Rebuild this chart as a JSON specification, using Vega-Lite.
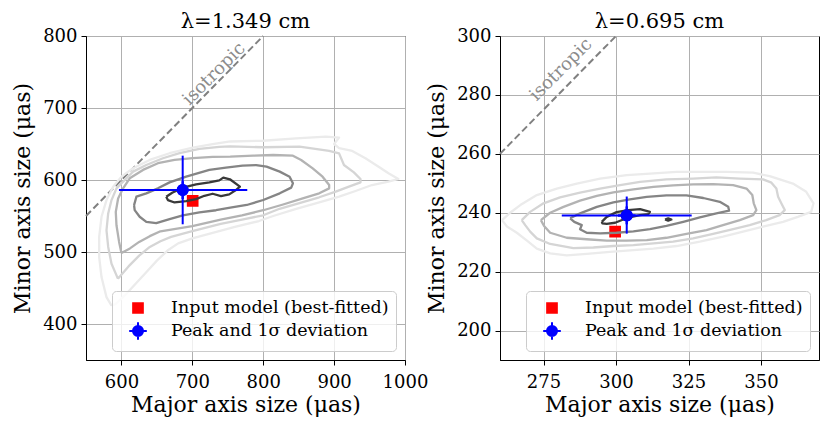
{
  "$schema": "https://vega.github.io/schema/vega-lite/v6.json",
  "padding": {"left": 11, "top": 10, "right": 8, "bottom": 5},
  "background": "white",
  "config": {
    "font": "DejaVu Serif",
    "view": {"stroke": "black", "strokeWidth": 1},
    "title": {"font": "DejaVu Serif", "fontSize": 21, "fontWeight": "normal", "color": "black", "offset": -5},
    "axis": {
      "labelFont": "DejaVu Serif", "labelFontSize": 18, "labelColor": "black",
      "titleFont": "DejaVu Serif", "titleFontSize": 22, "titleFontWeight": "normal", "titleColor": "black",
      "gridColor": "#b0b0b0", "gridWidth": 1, "domainColor": "black", "tickColor": "black",
      "tickSize": 5, "labelFlush": false, "labelOverlap": false, "format": "d"
    },
    "axisY": {"titlePadding": 8, "labelPadding": 4},
    "axisX": {"titlePadding": 3, "labelPadding": 8},
    "legend": {
      "labelFont": "DejaVu Serif", "labelFontSize": 17.5, "labelColor": "black", "labelLimit": 400,
      "symbolSize": 310, "symbolStrokeWidth": 2
    }
  },
  "datasets": {
    "isoL": [{"x": 550, "y": 550}, {"x": 800, "y": 800}],
    "isoR": [{"x": 260, "y": 260}, {"x": 300, "y": 300}],
    "txtL": [{"x": 731, "y": 747, "label": "isotropic"}],
    "txtR": [{"x": 281.1, "y": 288.5, "label": "isotropic"}],
    "mkL": [
      {"x": 700.5, "y": 571, "series": "Input model (best-fitted)"},
      {"x": 686.4, "y": 586, "series": "Peak and 1σ deviation"}
    ],
    "mkR": [
      {"x": 299.7, "y": 233.6, "series": "Input model (best-fitted)"},
      {"x": 303.7, "y": 239.1, "series": "Peak and 1σ deviation"}
    ],
    "eL": [
      {"x": 596.5, "y": 586, "x2": 777.5, "y2": 586},
      {"x": 686.4, "y": 538.5, "x2": 686.4, "y2": 633.8}
    ],
    "eR": [
      {"x": 281.3, "y": 239.1, "x2": 326.1, "y2": 239.1},
      {"x": 303.7, "y": 232.9, "x2": 303.7, "y2": 245.5}
    ],
    "cL": [
      {"l": 1, "s": "a", "o": 0, "x": 663.2, "y": 576.8},
      {"l": 1, "s": "a", "o": 1, "x": 671.6, "y": 582.3},
      {"l": 1, "s": "a", "o": 2, "x": 686.6, "y": 589.3},
      {"l": 1, "s": "a", "o": 3, "x": 705.3, "y": 594},
      {"l": 1, "s": "a", "o": 4, "x": 724, "y": 596.7},
      {"l": 1, "s": "a", "o": 5, "x": 738, "y": 599.5},
      {"l": 1, "s": "a", "o": 6, "x": 743.7, "y": 603.3},
      {"l": 1, "s": "a", "o": 7, "x": 753, "y": 601},
      {"l": 1, "s": "a", "o": 8, "x": 767.1, "y": 590.7},
      {"l": 1, "s": "a", "o": 9, "x": 761.5, "y": 586},
      {"l": 1, "s": "a", "o": 10, "x": 752.1, "y": 580},
      {"l": 1, "s": "a", "o": 11, "x": 740.4, "y": 577.7},
      {"l": 1, "s": "a", "o": 12, "x": 728.7, "y": 580.9},
      {"l": 1, "s": "a", "o": 13, "x": 717, "y": 578.1},
      {"l": 1, "s": "a", "o": 14, "x": 705.3, "y": 573.5},
      {"l": 1, "s": "a", "o": 15, "x": 691.3, "y": 570.7},
      {"l": 1, "s": "a", "o": 16, "x": 674.9, "y": 568.8},
      {"l": 1, "s": "a", "o": 17, "x": 665.5, "y": 572.1},
      {"l": 1, "s": "a", "o": 18, "x": 663.2, "y": 576.8},

      {"l": 2, "s": "b", "o": 0, "x": 617.8, "y": 565.1},
      {"l": 2, "s": "b", "o": 1, "x": 621.1, "y": 576.8},
      {"l": 2, "s": "b", "o": 2, "x": 635.1, "y": 581.4},
      {"l": 2, "s": "b", "o": 3, "x": 651.5, "y": 588.4},
      {"l": 2, "s": "b", "o": 4, "x": 667.9, "y": 596.7},
      {"l": 2, "s": "b", "o": 5, "x": 691.3, "y": 604.7},
      {"l": 2, "s": "b", "o": 6, "x": 724, "y": 614},
      {"l": 2, "s": "b", "o": 7, "x": 747.4, "y": 617.2},
      {"l": 2, "s": "b", "o": 8, "x": 770.8, "y": 620},
      {"l": 2, "s": "b", "o": 9, "x": 790, "y": 620.8},
      {"l": 2, "s": "b", "o": 10, "x": 804.7, "y": 618.5},
      {"l": 2, "s": "b", "o": 11, "x": 823.3, "y": 611.6},
      {"l": 2, "s": "b", "o": 12, "x": 837.2, "y": 604.6},
      {"l": 2, "s": "b", "o": 13, "x": 841.9, "y": 595.4},
      {"l": 2, "s": "b", "o": 14, "x": 839.5, "y": 589.4},
      {"l": 2, "s": "b", "o": 15, "x": 823.3, "y": 581.5},
      {"l": 2, "s": "b", "o": 16, "x": 800, "y": 572.2},
      {"l": 2, "s": "b", "o": 17, "x": 776.8, "y": 565.3},
      {"l": 2, "s": "b", "o": 18, "x": 753.5, "y": 561.5},
      {"l": 2, "s": "b", "o": 19, "x": 733.4, "y": 558},
      {"l": 2, "s": "b", "o": 20, "x": 710, "y": 555},
      {"l": 2, "s": "b", "o": 21, "x": 686.6, "y": 551},
      {"l": 2, "s": "b", "o": 22, "x": 667.9, "y": 545.6},
      {"l": 2, "s": "b", "o": 23, "x": 649.1, "y": 540},
      {"l": 2, "s": "b", "o": 24, "x": 635.1, "y": 541.9},
      {"l": 2, "s": "b", "o": 25, "x": 625.7, "y": 548.9},
      {"l": 2, "s": "b", "o": 26, "x": 618.7, "y": 558.2},
      {"l": 2, "s": "b", "o": 27, "x": 617.8, "y": 565.1},

      {"l": 3, "s": "c", "o": 0, "x": 600, "y": 498.6},
      {"l": 3, "s": "c", "o": 1, "x": 596.7, "y": 514},
      {"l": 3, "s": "c", "o": 2, "x": 593, "y": 537.2},
      {"l": 3, "s": "c", "o": 3, "x": 592, "y": 555.8},
      {"l": 3, "s": "c", "o": 4, "x": 595.3, "y": 574.4},
      {"l": 3, "s": "c", "o": 5, "x": 602.3, "y": 588.4},
      {"l": 3, "s": "c", "o": 6, "x": 611.7, "y": 602.3},
      {"l": 3, "s": "c", "o": 7, "x": 630.4, "y": 614},
      {"l": 3, "s": "c", "o": 8, "x": 651.5, "y": 623.3},
      {"l": 3, "s": "c", "o": 9, "x": 674.9, "y": 628},
      {"l": 3, "s": "c", "o": 10, "x": 700.6, "y": 630.5},
      {"l": 3, "s": "c", "o": 11, "x": 728.7, "y": 632},
      {"l": 3, "s": "c", "o": 12, "x": 753.5, "y": 632.4},
      {"l": 3, "s": "c", "o": 13, "x": 786, "y": 633.8},
      {"l": 3, "s": "c", "o": 14, "x": 814, "y": 634.7},
      {"l": 3, "s": "c", "o": 15, "x": 841.9, "y": 633.8},
      {"l": 3, "s": "c", "o": 16, "x": 853.5, "y": 627.8},
      {"l": 3, "s": "c", "o": 17, "x": 869.8, "y": 616.2},
      {"l": 3, "s": "c", "o": 18, "x": 883.7, "y": 604.6},
      {"l": 3, "s": "c", "o": 19, "x": 893, "y": 593},
      {"l": 3, "s": "c", "o": 20, "x": 893, "y": 588.4},
      {"l": 3, "s": "c", "o": 21, "x": 879, "y": 581.5},
      {"l": 3, "s": "c", "o": 22, "x": 855.8, "y": 574.5},
      {"l": 3, "s": "c", "o": 23, "x": 828, "y": 566},
      {"l": 3, "s": "c", "o": 24, "x": 800, "y": 558},
      {"l": 3, "s": "c", "o": 25, "x": 770, "y": 551},
      {"l": 3, "s": "c", "o": 26, "x": 740, "y": 545},
      {"l": 3, "s": "c", "o": 27, "x": 700, "y": 536},
      {"l": 3, "s": "c", "o": 28, "x": 655, "y": 528.8},
      {"l": 3, "s": "c", "o": 29, "x": 640, "y": 522},
      {"l": 3, "s": "c", "o": 30, "x": 625, "y": 514},
      {"l": 3, "s": "c", "o": 31, "x": 612, "y": 505},
      {"l": 3, "s": "c", "o": 32, "x": 600, "y": 498.6},

      {"l": 4, "s": "d", "o": 0, "x": 595, "y": 463},
      {"l": 4, "s": "d", "o": 1, "x": 586, "y": 483.7},
      {"l": 4, "s": "d", "o": 2, "x": 581.3, "y": 507},
      {"l": 4, "s": "d", "o": 3, "x": 578.9, "y": 530.2},
      {"l": 4, "s": "d", "o": 4, "x": 581.3, "y": 553.5},
      {"l": 4, "s": "d", "o": 5, "x": 586, "y": 572.1},
      {"l": 4, "s": "d", "o": 6, "x": 593, "y": 588.4},
      {"l": 4, "s": "d", "o": 7, "x": 604.7, "y": 600},
      {"l": 4, "s": "d", "o": 8, "x": 616.4, "y": 611.6},
      {"l": 4, "s": "d", "o": 9, "x": 635.1, "y": 620.9},
      {"l": 4, "s": "d", "o": 10, "x": 658.5, "y": 630.2},
      {"l": 4, "s": "d", "o": 11, "x": 681.9, "y": 637.2},
      {"l": 4, "s": "d", "o": 12, "x": 710, "y": 643.2},
      {"l": 4, "s": "d", "o": 13, "x": 738, "y": 646},
      {"l": 4, "s": "d", "o": 14, "x": 753.5, "y": 646.8},
      {"l": 4, "s": "d", "o": 15, "x": 800, "y": 645.5},
      {"l": 4, "s": "d", "o": 16, "x": 851.2, "y": 646.3},
      {"l": 4, "s": "d", "o": 17, "x": 893, "y": 640.3},
      {"l": 4, "s": "d", "o": 18, "x": 907, "y": 637},
      {"l": 4, "s": "d", "o": 19, "x": 913.9, "y": 620.8},
      {"l": 4, "s": "d", "o": 20, "x": 927.9, "y": 610.6},
      {"l": 4, "s": "d", "o": 21, "x": 937.2, "y": 601.4},
      {"l": 4, "s": "d", "o": 22, "x": 937.2, "y": 596.8},
      {"l": 4, "s": "d", "o": 23, "x": 920.9, "y": 590.7},
      {"l": 4, "s": "d", "o": 24, "x": 902.3, "y": 583.8},
      {"l": 4, "s": "d", "o": 25, "x": 879, "y": 576},
      {"l": 4, "s": "d", "o": 26, "x": 851, "y": 568},
      {"l": 4, "s": "d", "o": 27, "x": 823, "y": 560},
      {"l": 4, "s": "d", "o": 28, "x": 800, "y": 551},
      {"l": 4, "s": "d", "o": 29, "x": 770, "y": 545},
      {"l": 4, "s": "d", "o": 30, "x": 740, "y": 539},
      {"l": 4, "s": "d", "o": 31, "x": 700, "y": 529},
      {"l": 4, "s": "d", "o": 32, "x": 670, "y": 521},
      {"l": 4, "s": "d", "o": 33, "x": 655, "y": 515},
      {"l": 4, "s": "d", "o": 34, "x": 640, "y": 507},
      {"l": 4, "s": "d", "o": 35, "x": 625, "y": 495},
      {"l": 4, "s": "d", "o": 36, "x": 610, "y": 480},
      {"l": 4, "s": "d", "o": 37, "x": 595, "y": 463},

      {"l": 5, "s": "e", "o": 0, "x": 586, "y": 425.6},
      {"l": 5, "s": "e", "o": 1, "x": 578.9, "y": 437.3},
      {"l": 5, "s": "e", "o": 2, "x": 571.9, "y": 465.2},
      {"l": 5, "s": "e", "o": 3, "x": 568.6, "y": 493},
      {"l": 5, "s": "e", "o": 4, "x": 568.6, "y": 521},
      {"l": 5, "s": "e", "o": 5, "x": 571.9, "y": 548.9},
      {"l": 5, "s": "e", "o": 6, "x": 578.9, "y": 572.1},
      {"l": 5, "s": "e", "o": 7, "x": 588.3, "y": 590.7},
      {"l": 5, "s": "e", "o": 8, "x": 600, "y": 604.7},
      {"l": 5, "s": "e", "o": 9, "x": 616.4, "y": 616.3},
      {"l": 5, "s": "e", "o": 10, "x": 639.8, "y": 627.9},
      {"l": 5, "s": "e", "o": 11, "x": 667.9, "y": 637.2},
      {"l": 5, "s": "e", "o": 12, "x": 700.6, "y": 645.1},
      {"l": 5, "s": "e", "o": 13, "x": 728.7, "y": 649.8},
      {"l": 5, "s": "e", "o": 14, "x": 753.5, "y": 653.5},
      {"l": 5, "s": "e", "o": 15, "x": 800, "y": 654.5},
      {"l": 5, "s": "e", "o": 16, "x": 846.5, "y": 657.9},
      {"l": 5, "s": "e", "o": 17, "x": 888.4, "y": 660.2},
      {"l": 5, "s": "e", "o": 18, "x": 907, "y": 658.8},
      {"l": 5, "s": "e", "o": 19, "x": 900, "y": 650},
      {"l": 5, "s": "e", "o": 20, "x": 907, "y": 644.4},
      {"l": 5, "s": "e", "o": 21, "x": 925.6, "y": 640.3},
      {"l": 5, "s": "e", "o": 22, "x": 944.2, "y": 630.1},
      {"l": 5, "s": "e", "o": 23, "x": 962.8, "y": 618.5},
      {"l": 5, "s": "e", "o": 24, "x": 976.7, "y": 609.3},
      {"l": 5, "s": "e", "o": 25, "x": 990.7, "y": 601.4},
      {"l": 5, "s": "e", "o": 26, "x": 976.7, "y": 597.7},
      {"l": 5, "s": "e", "o": 27, "x": 953.5, "y": 593},
      {"l": 5, "s": "e", "o": 28, "x": 930.2, "y": 584.7},
      {"l": 5, "s": "e", "o": 29, "x": 907, "y": 576.8},
      {"l": 5, "s": "e", "o": 30, "x": 879, "y": 569},
      {"l": 5, "s": "e", "o": 31, "x": 846.5, "y": 560},
      {"l": 5, "s": "e", "o": 32, "x": 814, "y": 550},
      {"l": 5, "s": "e", "o": 33, "x": 794, "y": 543},
      {"l": 5, "s": "e", "o": 34, "x": 760, "y": 535},
      {"l": 5, "s": "e", "o": 35, "x": 730, "y": 527},
      {"l": 5, "s": "e", "o": 36, "x": 700, "y": 519},
      {"l": 5, "s": "e", "o": 37, "x": 680, "y": 512},
      {"l": 5, "s": "e", "o": 38, "x": 665, "y": 502},
      {"l": 5, "s": "e", "o": 39, "x": 650, "y": 488},
      {"l": 5, "s": "e", "o": 40, "x": 635, "y": 472},
      {"l": 5, "s": "e", "o": 41, "x": 620, "y": 456},
      {"l": 5, "s": "e", "o": 42, "x": 605, "y": 440},
      {"l": 5, "s": "e", "o": 43, "x": 592, "y": 428},
      {"l": 5, "s": "e", "o": 44, "x": 586, "y": 425.6}
    ],
    "cR": [
      {"l": 1, "s": "a", "o": 0, "x": 295.1, "y": 236.9},
      {"l": 1, "s": "a", "o": 1, "x": 296.8, "y": 238.6},
      {"l": 1, "s": "a", "o": 2, "x": 300.2, "y": 240.2},
      {"l": 1, "s": "a", "o": 3, "x": 304.2, "y": 240.9},
      {"l": 1, "s": "a", "o": 4, "x": 308.3, "y": 241.2},
      {"l": 1, "s": "a", "o": 5, "x": 311.7, "y": 240.3},
      {"l": 1, "s": "a", "o": 6, "x": 311.1, "y": 239.5},
      {"l": 1, "s": "a", "o": 7, "x": 308.3, "y": 239.2},
      {"l": 1, "s": "a", "o": 8, "x": 305.4, "y": 238.6},
      {"l": 1, "s": "a", "o": 9, "x": 302.5, "y": 237.7},
      {"l": 1, "s": "a", "o": 10, "x": 299.7, "y": 236.6},
      {"l": 1, "s": "a", "o": 11, "x": 296.8, "y": 236.2},
      {"l": 1, "s": "a", "o": 12, "x": 295.3, "y": 236.4},
      {"l": 1, "s": "a", "o": 13, "x": 295.1, "y": 236.9},

      {"l": 1, "s": "a2", "o": 0, "x": 316.9, "y": 237.7},
      {"l": 1, "s": "a2", "o": 1, "x": 318, "y": 238.1},
      {"l": 1, "s": "a2", "o": 2, "x": 319.1, "y": 237.7},
      {"l": 1, "s": "a2", "o": 3, "x": 318, "y": 237.3},
      {"l": 1, "s": "a2", "o": 4, "x": 316.9, "y": 237.7},

      {"l": 2, "s": "b", "o": 0, "x": 284.2, "y": 238.1},
      {"l": 2, "s": "b", "o": 1, "x": 287.6, "y": 239.8},
      {"l": 2, "s": "b", "o": 2, "x": 293.4, "y": 242},
      {"l": 2, "s": "b", "o": 3, "x": 299.1, "y": 243.5},
      {"l": 2, "s": "b", "o": 4, "x": 304.8, "y": 244.5},
      {"l": 2, "s": "b", "o": 5, "x": 310.6, "y": 245.4},
      {"l": 2, "s": "b", "o": 6, "x": 317.4, "y": 245.9},
      {"l": 2, "s": "b", "o": 7, "x": 324.3, "y": 245.9},
      {"l": 2, "s": "b", "o": 8, "x": 330.1, "y": 245},
      {"l": 2, "s": "b", "o": 9, "x": 335.8, "y": 243.7},
      {"l": 2, "s": "b", "o": 10, "x": 338.7, "y": 242},
      {"l": 2, "s": "b", "o": 11, "x": 339, "y": 240.7},
      {"l": 2, "s": "b", "o": 12, "x": 334.6, "y": 239.8},
      {"l": 2, "s": "b", "o": 13, "x": 328.9, "y": 238.4},
      {"l": 2, "s": "b", "o": 14, "x": 323.2, "y": 236.9},
      {"l": 2, "s": "b", "o": 15, "x": 317.4, "y": 235.5},
      {"l": 2, "s": "b", "o": 16, "x": 311.7, "y": 234.4},
      {"l": 2, "s": "b", "o": 17, "x": 306, "y": 233.7},
      {"l": 2, "s": "b", "o": 18, "x": 300.2, "y": 233.2},
      {"l": 2, "s": "b", "o": 19, "x": 294.5, "y": 233},
      {"l": 2, "s": "b", "o": 20, "x": 289.9, "y": 233.2},
      {"l": 2, "s": "b", "o": 21, "x": 287.6, "y": 234.4},
      {"l": 2, "s": "b", "o": 22, "x": 288.2, "y": 235.8},
      {"l": 2, "s": "b", "o": 23, "x": 285.6, "y": 236.9},
      {"l": 2, "s": "b", "o": 24, "x": 284.2, "y": 238.1},

      {"l": 3, "s": "c", "o": 0, "x": 274.1, "y": 237.5},
      {"l": 3, "s": "c", "o": 1, "x": 277.3, "y": 240},
      {"l": 3, "s": "c", "o": 2, "x": 281.9, "y": 242},
      {"l": 3, "s": "c", "o": 3, "x": 287.6, "y": 244.1},
      {"l": 3, "s": "c", "o": 4, "x": 293.4, "y": 245.7},
      {"l": 3, "s": "c", "o": 5, "x": 299.1, "y": 246.9},
      {"l": 3, "s": "c", "o": 6, "x": 306, "y": 247.9},
      {"l": 3, "s": "c", "o": 7, "x": 312.9, "y": 248.8},
      {"l": 3, "s": "c", "o": 8, "x": 319.7, "y": 249.3},
      {"l": 3, "s": "c", "o": 9, "x": 326.6, "y": 249.6},
      {"l": 3, "s": "c", "o": 10, "x": 333.5, "y": 249.7},
      {"l": 3, "s": "c", "o": 11, "x": 340.4, "y": 249.4},
      {"l": 3, "s": "c", "o": 12, "x": 345, "y": 248.2},
      {"l": 3, "s": "c", "o": 13, "x": 347, "y": 246},
      {"l": 3, "s": "c", "o": 14, "x": 347.5, "y": 243.2},
      {"l": 3, "s": "c", "o": 15, "x": 348.4, "y": 240.9},
      {"l": 3, "s": "c", "o": 16, "x": 347.3, "y": 239.2},
      {"l": 3, "s": "c", "o": 17, "x": 342.7, "y": 237.5},
      {"l": 3, "s": "c", "o": 18, "x": 336.9, "y": 235.8},
      {"l": 3, "s": "c", "o": 19, "x": 331.2, "y": 234.1},
      {"l": 3, "s": "c", "o": 20, "x": 324.3, "y": 232.8},
      {"l": 3, "s": "c", "o": 21, "x": 317.4, "y": 231.5},
      {"l": 3, "s": "c", "o": 22, "x": 310.6, "y": 230.7},
      {"l": 3, "s": "c", "o": 23, "x": 303.7, "y": 230.5},
      {"l": 3, "s": "c", "o": 24, "x": 296.8, "y": 230.5},
      {"l": 3, "s": "c", "o": 25, "x": 289.9, "y": 231},
      {"l": 3, "s": "c", "o": 26, "x": 283, "y": 231.5},
      {"l": 3, "s": "c", "o": 27, "x": 277.3, "y": 233.2},
      {"l": 3, "s": "c", "o": 28, "x": 275.2, "y": 235.5},
      {"l": 3, "s": "c", "o": 29, "x": 274.1, "y": 237.5},

      {"l": 4, "s": "d", "o": 0, "x": 267.5, "y": 237.5},
      {"l": 4, "s": "d", "o": 1, "x": 270.4, "y": 240.3},
      {"l": 4, "s": "d", "o": 2, "x": 275, "y": 243.2},
      {"l": 4, "s": "d", "o": 3, "x": 280.7, "y": 245.2},
      {"l": 4, "s": "d", "o": 4, "x": 287.6, "y": 246.8},
      {"l": 4, "s": "d", "o": 5, "x": 294.5, "y": 248.2},
      {"l": 4, "s": "d", "o": 6, "x": 301.4, "y": 249.4},
      {"l": 4, "s": "d", "o": 7, "x": 308.3, "y": 250.5},
      {"l": 4, "s": "d", "o": 8, "x": 317.4, "y": 251.3},
      {"l": 4, "s": "d", "o": 9, "x": 326.6, "y": 251.6},
      {"l": 4, "s": "d", "o": 10, "x": 334.6, "y": 252},
      {"l": 4, "s": "d", "o": 11, "x": 342.7, "y": 251.6},
      {"l": 4, "s": "d", "o": 12, "x": 350.7, "y": 251.3},
      {"l": 4, "s": "d", "o": 13, "x": 353.6, "y": 250.2},
      {"l": 4, "s": "d", "o": 14, "x": 355.3, "y": 248.2},
      {"l": 4, "s": "d", "o": 15, "x": 355.9, "y": 245.4},
      {"l": 4, "s": "d", "o": 16, "x": 357, "y": 243.2},
      {"l": 4, "s": "d", "o": 17, "x": 358.2, "y": 240.9},
      {"l": 4, "s": "d", "o": 18, "x": 356.4, "y": 239.2},
      {"l": 4, "s": "d", "o": 19, "x": 351.8, "y": 237.5},
      {"l": 4, "s": "d", "o": 20, "x": 346.1, "y": 235.8},
      {"l": 4, "s": "d", "o": 21, "x": 340.4, "y": 234.4},
      {"l": 4, "s": "d", "o": 22, "x": 333.5, "y": 232.8},
      {"l": 4, "s": "d", "o": 23, "x": 326.6, "y": 231.3},
      {"l": 4, "s": "d", "o": 24, "x": 319.7, "y": 230.2},
      {"l": 4, "s": "d", "o": 25, "x": 312.9, "y": 229.6},
      {"l": 4, "s": "d", "o": 26, "x": 306, "y": 229},
      {"l": 4, "s": "d", "o": 27, "x": 299.1, "y": 228.7},
      {"l": 4, "s": "d", "o": 28, "x": 292.2, "y": 228.2},
      {"l": 4, "s": "d", "o": 29, "x": 285.3, "y": 228},
      {"l": 4, "s": "d", "o": 30, "x": 277.3, "y": 229.4},
      {"l": 4, "s": "d", "o": 31, "x": 272.7, "y": 231.3},
      {"l": 4, "s": "d", "o": 32, "x": 270.4, "y": 233.6},
      {"l": 4, "s": "d", "o": 33, "x": 268.7, "y": 235.8},
      {"l": 4, "s": "d", "o": 34, "x": 267.5, "y": 237.5},

      {"l": 5, "s": "e", "o": 0, "x": 260.7, "y": 237.5},
      {"l": 5, "s": "e", "o": 1, "x": 263.5, "y": 240},
      {"l": 5, "s": "e", "o": 2, "x": 267, "y": 242.6},
      {"l": 5, "s": "e", "o": 3, "x": 272.7, "y": 246},
      {"l": 5, "s": "e", "o": 4, "x": 279.6, "y": 248.2},
      {"l": 5, "s": "e", "o": 5, "x": 286.5, "y": 249.9},
      {"l": 5, "s": "e", "o": 6, "x": 294.5, "y": 251.6},
      {"l": 5, "s": "e", "o": 7, "x": 303.7, "y": 252.8},
      {"l": 5, "s": "e", "o": 8, "x": 311.7, "y": 253.3},
      {"l": 5, "s": "e", "o": 9, "x": 320.9, "y": 253.9},
      {"l": 5, "s": "e", "o": 10, "x": 328.9, "y": 253.9},
      {"l": 5, "s": "e", "o": 11, "x": 338.1, "y": 253.9},
      {"l": 5, "s": "e", "o": 12, "x": 347.3, "y": 253.6},
      {"l": 5, "s": "e", "o": 13, "x": 353, "y": 252.4},
      {"l": 5, "s": "e", "o": 14, "x": 361, "y": 249.9},
      {"l": 5, "s": "e", "o": 15, "x": 365.6, "y": 247.1},
      {"l": 5, "s": "e", "o": 16, "x": 368.1, "y": 243.2},
      {"l": 5, "s": "e", "o": 17, "x": 367.3, "y": 240.3},
      {"l": 5, "s": "e", "o": 18, "x": 362.7, "y": 238.6},
      {"l": 5, "s": "e", "o": 19, "x": 357.6, "y": 236.9},
      {"l": 5, "s": "e", "o": 20, "x": 350.7, "y": 235.3},
      {"l": 5, "s": "e", "o": 21, "x": 343.8, "y": 233.6},
      {"l": 5, "s": "e", "o": 22, "x": 336.9, "y": 231.9},
      {"l": 5, "s": "e", "o": 23, "x": 328.9, "y": 230.2},
      {"l": 5, "s": "e", "o": 24, "x": 320.9, "y": 228.7},
      {"l": 5, "s": "e", "o": 25, "x": 312.9, "y": 227.8},
      {"l": 5, "s": "e", "o": 26, "x": 306, "y": 227.3},
      {"l": 5, "s": "e", "o": 27, "x": 297.9, "y": 226.7},
      {"l": 5, "s": "e", "o": 28, "x": 289.9, "y": 226},
      {"l": 5, "s": "e", "o": 29, "x": 283, "y": 225.5},
      {"l": 5, "s": "e", "o": 30, "x": 277.3, "y": 226.2},
      {"l": 5, "s": "e", "o": 31, "x": 272.7, "y": 227.8},
      {"l": 5, "s": "e", "o": 32, "x": 269.3, "y": 230.5},
      {"l": 5, "s": "e", "o": 33, "x": 265.8, "y": 233.2},
      {"l": 5, "s": "e", "o": 34, "x": 262.4, "y": 235.3},
      {"l": 5, "s": "e", "o": 35, "x": 260.7, "y": 237.5}
    ]
  },
  "hconcat": [
    {
      "title": {"text": "λ=1.349 cm"},
      "width": 319,
      "height": 324,
      "encoding": {
        "x": {"field": "x", "type": "quantitative", "scale": {"domain": [550, 1000], "nice": false, "zero": false}, "axis": {"values": [600, 700, 800, 900, 1000], "title": "Major axis size (μas)"}},
        "y": {"field": "y", "type": "quantitative", "scale": {"domain": [350, 800], "nice": false, "zero": false}, "axis": {"values": [400, 500, 600, 700, 800], "title": "Minor axis size (μas)"}}
      },
      "layer": [
        {"data": {"name": "isoL"}, "mark": {"type": "line", "color": "#808080", "strokeWidth": 2, "strokeDash": [7, 3.5]}, "encoding": {}},
        {"data": {"name": "txtL"}, "mark": {"type": "text", "angle": 315, "color": "#8c8c8c", "fontSize": 18, "font": "DejaVu Serif"}, "encoding": {"text": {"field": "label", "type": "nominal"}}},
        {"data": {"name": "mkL"}, "mark": {"type": "point", "filled": true, "size": 310, "strokeWidth": 2, "opacity": 1},
          "encoding": {
            "shape": {"field": "series", "type": "nominal", "scale": {"domain": ["Input model (best-fitted)", "Peak and 1σ deviation"], "range": ["M-0.55,-0.55H0.55V0.55H-0.55Z", "M-1,0H1M0,-1V1M0.57,0A0.57,0.57,0,1,1,-0.57,0A0.57,0.57,0,1,1,0.57,0Z"]},
              "legend": {"title": null, "orient": "bottom-right", "offset": 9, "padding": 7, "rowPadding": 1, "symbolOffset": 9, "labelOffset": 23, "fillColor": "rgba(255,255,255,0.8)", "strokeColor": "#cccccc", "cornerRadius": 4}},
            "fill": {"field": "series", "type": "nominal", "scale": {"domain": ["Input model (best-fitted)", "Peak and 1σ deviation"], "range": ["#ff0000", "#0000ff"]},
              "legend": {"title": null, "orient": "bottom-right", "offset": 9, "padding": 7, "rowPadding": 1, "symbolOffset": 9, "labelOffset": 23, "fillColor": "rgba(255,255,255,0.8)", "strokeColor": "#cccccc", "cornerRadius": 4}},
            "stroke": {"field": "series", "type": "nominal", "scale": {"domain": ["Input model (best-fitted)", "Peak and 1σ deviation"], "range": ["#ff0000", "#0000ff"]},
              "legend": {"title": null, "orient": "bottom-right", "offset": 9, "padding": 7, "rowPadding": 1, "symbolOffset": 9, "labelOffset": 23, "fillColor": "rgba(255,255,255,0.8)", "strokeColor": "#cccccc", "cornerRadius": 4}}
          }
        },
        {"data": {"name": "cL"}, "mark": {"type": "line", "strokeWidth": 2.3, "strokeJoin": "round"},
          "encoding": {
            "color": {"field": "l", "type": "ordinal", "scale": {"domain": [1, 2, 3, 4, 5], "range": ["#3a3a3a", "#858585", "#b3b3b3", "#d5d5d5", "#ebebeb"]}, "legend": null},
            "detail": {"field": "s", "type": "nominal"},
            "order": {"field": "o", "type": "quantitative"}
          }
        },
        {"data": {"name": "eL"}, "mark": {"type": "rule", "color": "#0000ff", "strokeWidth": 2},
          "encoding": {"x2": {"field": "x2"}, "y2": {"field": "y2"}}},
        {"data": {"name": "mkL"}, "transform": [{"filter": "datum.series !== 'Input model (best-fitted)'"}],
          "mark": {"type": "point", "shape": "M-1,0H1M0,-1V1M0.57,0A0.57,0.57,0,1,1,-0.57,0A0.57,0.57,0,1,1,0.57,0Z", "fill": "#0000ff", "stroke": "#0000ff", "size": 310, "strokeWidth": 2, "opacity": 1}, "encoding": {}}
      ]
    },
    {
      "title": {"text": "λ=0.695 cm"},
      "width": 319,
      "height": 324,
      "encoding": {
        "x": {"field": "x", "type": "quantitative", "scale": {"domain": [260, 370], "nice": false, "zero": false}, "axis": {"values": [275, 300, 325, 350], "title": "Major axis size (μas)"}},
        "y": {"field": "y", "type": "quantitative", "scale": {"domain": [190, 300], "nice": false, "zero": false}, "axis": {"values": [200, 220, 240, 260, 280, 300], "title": "Minor axis size (μas)"}}
      },
      "layer": [
        {"data": {"name": "isoR"}, "mark": {"type": "line", "color": "#808080", "strokeWidth": 2, "strokeDash": [7, 3.5]}, "encoding": {}},
        {"data": {"name": "txtR"}, "mark": {"type": "text", "angle": 315, "color": "#8c8c8c", "fontSize": 18, "font": "DejaVu Serif"}, "encoding": {"text": {"field": "label", "type": "nominal"}}},
        {"data": {"name": "mkR"}, "mark": {"type": "point", "filled": true, "size": 310, "strokeWidth": 2, "opacity": 1},
          "encoding": {
            "shape": {"field": "series", "type": "nominal", "scale": {"domain": ["Input model (best-fitted)", "Peak and 1σ deviation"], "range": ["M-0.55,-0.55H0.55V0.55H-0.55Z", "M-1,0H1M0,-1V1M0.57,0A0.57,0.57,0,1,1,-0.57,0A0.57,0.57,0,1,1,0.57,0Z"]},
              "legend": {"title": null, "orient": "bottom-right", "offset": 9, "padding": 7, "rowPadding": 1, "symbolOffset": 9, "labelOffset": 23, "fillColor": "rgba(255,255,255,0.8)", "strokeColor": "#cccccc", "cornerRadius": 4}},
            "fill": {"field": "series", "type": "nominal", "scale": {"domain": ["Input model (best-fitted)", "Peak and 1σ deviation"], "range": ["#ff0000", "#0000ff"]},
              "legend": {"title": null, "orient": "bottom-right", "offset": 9, "padding": 7, "rowPadding": 1, "symbolOffset": 9, "labelOffset": 23, "fillColor": "rgba(255,255,255,0.8)", "strokeColor": "#cccccc", "cornerRadius": 4}},
            "stroke": {"field": "series", "type": "nominal", "scale": {"domain": ["Input model (best-fitted)", "Peak and 1σ deviation"], "range": ["#ff0000", "#0000ff"]},
              "legend": {"title": null, "orient": "bottom-right", "offset": 9, "padding": 7, "rowPadding": 1, "symbolOffset": 9, "labelOffset": 23, "fillColor": "rgba(255,255,255,0.8)", "strokeColor": "#cccccc", "cornerRadius": 4}}
          }
        },
        {"data": {"name": "cR"}, "mark": {"type": "line", "strokeWidth": 2.3, "strokeJoin": "round"},
          "encoding": {
            "color": {"field": "l", "type": "ordinal", "scale": {"domain": [1, 2, 3, 4, 5], "range": ["#3a3a3a", "#858585", "#b3b3b3", "#d5d5d5", "#ebebeb"]}, "legend": null},
            "detail": {"field": "s", "type": "nominal"},
            "order": {"field": "o", "type": "quantitative"}
          }
        },
        {"data": {"name": "eR"}, "mark": {"type": "rule", "color": "#0000ff", "strokeWidth": 2},
          "encoding": {"x2": {"field": "x2"}, "y2": {"field": "y2"}}},
        {"data": {"name": "mkR"}, "transform": [{"filter": "datum.series !== 'Input model (best-fitted)'"}],
          "mark": {"type": "point", "shape": "M-1,0H1M0,-1V1M0.57,0A0.57,0.57,0,1,1,-0.57,0A0.57,0.57,0,1,1,0.57,0Z", "fill": "#0000ff", "stroke": "#0000ff", "size": 310, "strokeWidth": 2, "opacity": 1}, "encoding": {}}
      ]
    }
  ],
  "spacing": 95,
  "bounds": "flush",
  "resolve": {
    "scale": {"x": "independent", "y": "independent", "color": "independent", "shape": "independent", "fill": "independent", "stroke": "independent"},
    "legend": {"shape": "independent", "fill": "independent", "stroke": "independent", "color": "independent"}
  }
}
